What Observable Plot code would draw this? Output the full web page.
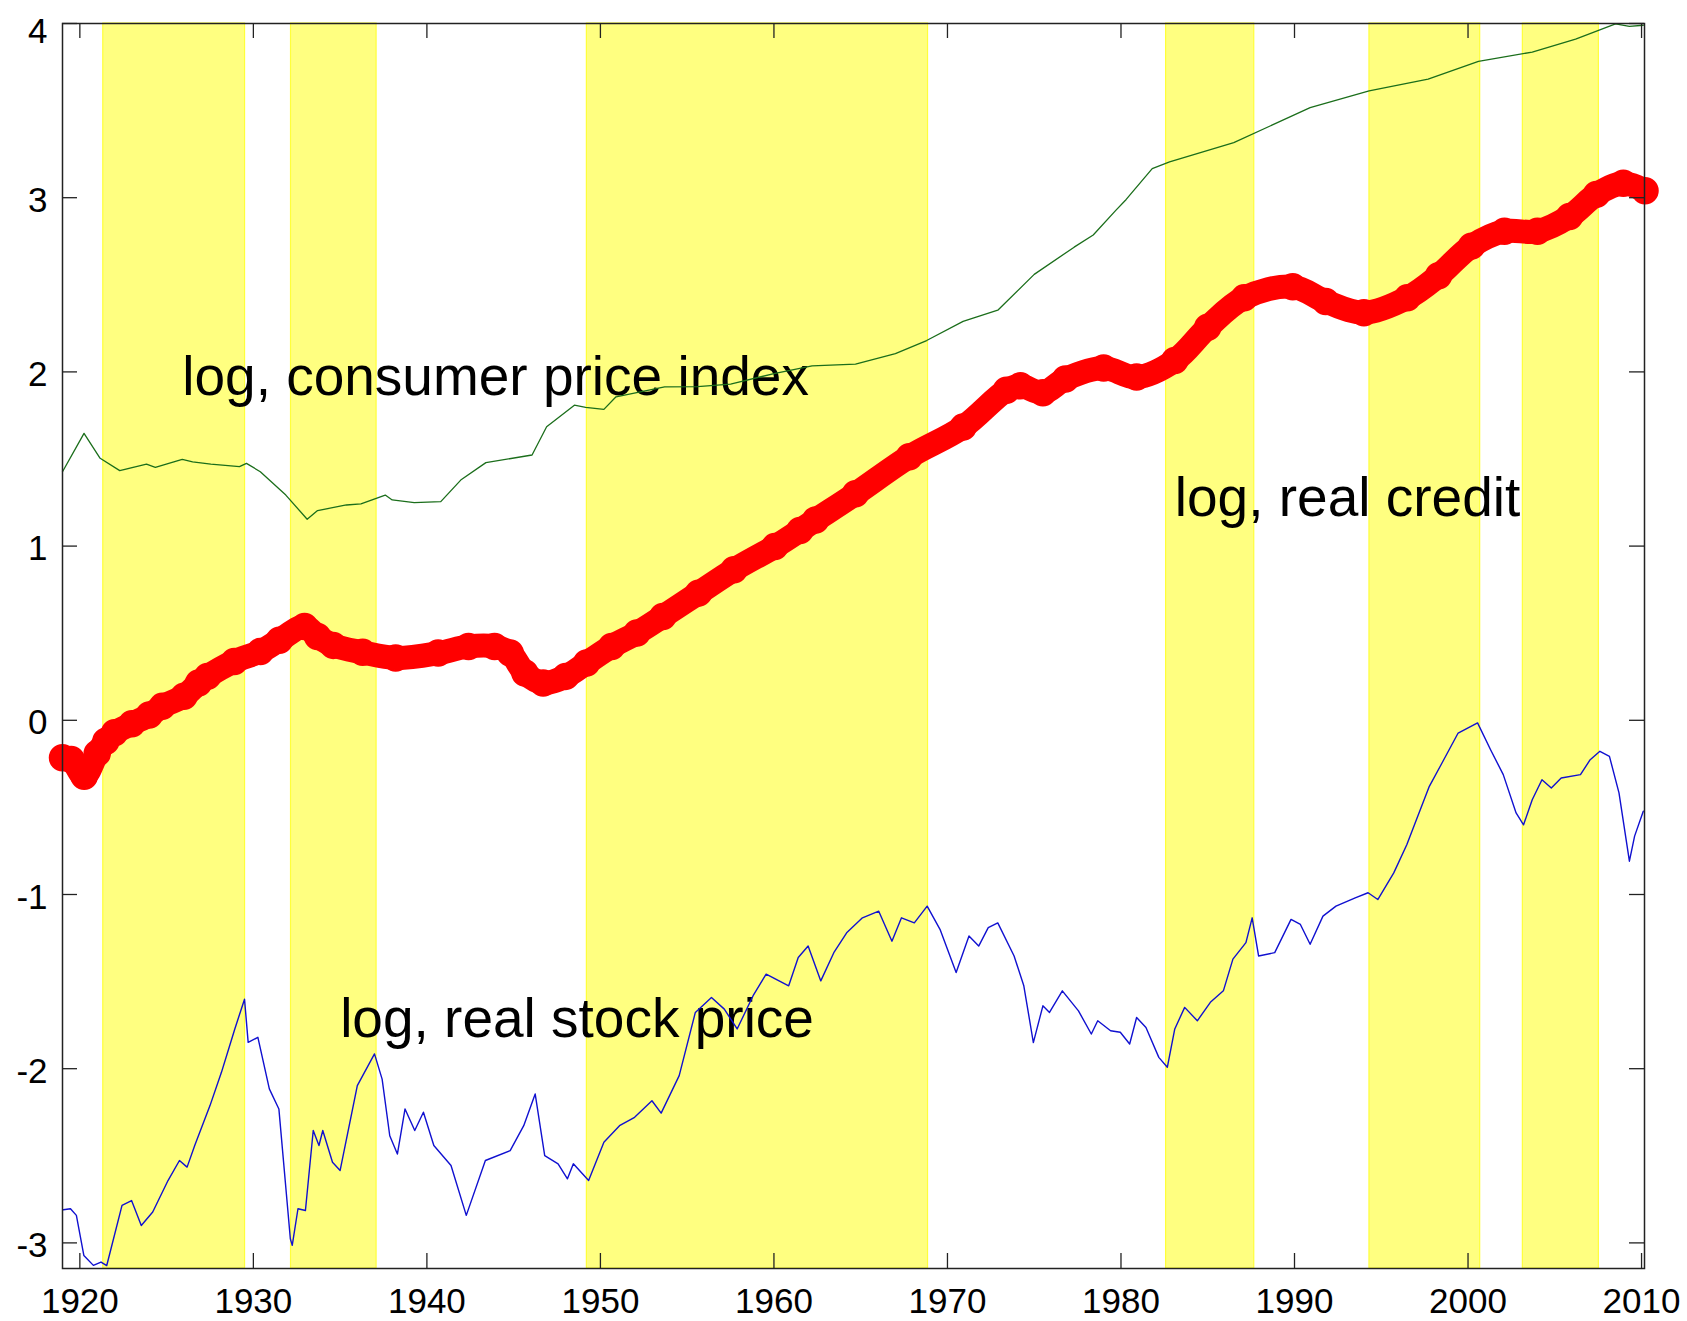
<!DOCTYPE html>
<html>
<head>
<meta charset="utf-8">
<script src="https://cdn.jsdelivr.net/npm/d3@7"></script>
<script src="https://cdn.jsdelivr.net/npm/@observablehq/plot@0.6"></script>
<style>
  html, body { margin: 0; padding: 0; background: #fff; }
</style>
</head>
<body>
<div id="chart"></div>
<script>
// ---- data ----
const cpiYear  = [1919.0,1920.24,1921.17,1922.3,1923.84,1924.35,1925.9,1926.5,1927.55,1929.2,1929.6,1930.4,1931.87,1933.1,1933.7,1935.36,1936.2,1937.6,1938.0,1939.27,1940.8,1941.95,1943.4,1946.06,1946.9,1948.5,1949.15,1950.2,1950.9,1953.7,1955.6,1957.5,1960.0,1962.2,1964.7,1967.0,1968.8,1970.9,1971.7,1972.9,1975.0,1977.3,1978.4,1979.7,1980.3,1981.8,1982.8,1986.5,1990.9,1994.3,1997.7,2000.6,2003.7,2006.2,2008.5,2009.3,2010.1];
const cpiValue = [1.427,1.647,1.504,1.433,1.471,1.452,1.498,1.484,1.471,1.456,1.475,1.427,1.293,1.154,1.204,1.236,1.242,1.293,1.265,1.25,1.255,1.379,1.479,1.523,1.685,1.809,1.796,1.785,1.857,1.914,1.915,1.93,1.99,2.035,2.045,2.105,2.18,2.29,2.316,2.354,2.56,2.716,2.786,2.927,2.99,3.167,3.206,3.316,3.517,3.613,3.681,3.783,3.836,3.91,3.998,3.984,3.99];

const creditYear  = [1919.0,1919.5,1920.25,1921.0,1921.5,1922.0,1923.0,1924.0,1924.75,1926.0,1926.84,1927.36,1928.9,1930.4,1931.5,1932.95,1933.7,1934.6,1936.3,1938.2,1940.65,1942.4,1943.9,1944.8,1945.65,1946.7,1948.0,1949.2,1950.65,1952.1,1953.6,1955.65,1957.7,1960.05,1961.5,1962.4,1964.7,1967.8,1970.9,1973.4,1974.2,1975.5,1976.8,1979.0,1980.9,1983.1,1985.0,1987.1,1989.9,1991.8,1994.0,1996.5,1998.3,2000.2,2002.1,2004.0,2005.85,2007.4,2008.95,2010.2];
const creditValue = [-0.215,-0.225,-0.321,-0.19,-0.12,-0.072,-0.02,0.03,0.08,0.138,0.214,0.252,0.338,0.395,0.46,0.539,0.481,0.43,0.39,0.358,0.386,0.424,0.424,0.386,0.272,0.214,0.252,0.329,0.424,0.501,0.596,0.73,0.864,0.997,1.09,1.15,1.30,1.513,1.683,1.895,1.92,1.88,1.959,2.022,1.97,2.065,2.256,2.425,2.489,2.404,2.34,2.425,2.552,2.722,2.807,2.807,2.892,3.019,3.083,3.04];

const stockYear  = [1919.05,1919.46,1919.8,1920.23,1920.78,1921.22,1921.55,1922.43,1922.98,1923.54,1924.2,1925.08,1925.74,1926.18,1926.62,1927.5,1928.16,1928.93,1929.49,1929.7,1930.26,1930.92,1931.47,1932.13,1932.24,1932.57,1933.0,1933.45,1933.78,1934.0,1934.56,1935.0,1935.99,1936.98,1937.42,1937.86,1938.3,1938.74,1939.3,1939.8,1940.4,1941.39,1942.27,1943.37,1944.8,1945.58,1946.24,1946.79,1947.56,1948.1,1948.44,1949.32,1950.2,1951.1,1951.97,1952.97,1953.5,1954.54,1955.47,1956.4,1957.14,1957.88,1958.8,1959.55,1960.85,1961.4,1961.97,1962.7,1963.45,1964.19,1965.1,1966.04,1966.8,1967.35,1968.09,1968.83,1969.57,1970.5,1971.24,1971.8,1972.35,1972.9,1973.84,1974.4,1974.95,1975.5,1975.88,1976.62,1977.55,1978.29,1978.66,1979.4,1979.96,1980.5,1980.9,1981.44,1982.18,1982.67,1983.1,1983.67,1984.4,1985.15,1985.9,1986.45,1987.2,1987.56,1987.93,1988.86,1989.8,1990.34,1990.9,1991.64,1992.39,1993.5,1994.24,1994.8,1995.72,1996.47,1997.03,1997.77,1998.5,1999.43,2000.55,2001.3,2002.03,2002.77,2003.2,2003.7,2004.26,2004.8,2005.37,2006.48,2007.04,2007.6,2008.15,2008.7,2009.3,2009.6,2010.1];
const stockValue = [-2.81,-2.804,-2.842,-3.072,-3.129,-3.11,-3.13,-2.785,-2.757,-2.9,-2.823,-2.642,-2.527,-2.565,-2.441,-2.212,-2.021,-1.772,-1.601,-1.849,-1.82,-2.116,-2.231,-2.976,-3.014,-2.804,-2.814,-2.355,-2.441,-2.355,-2.537,-2.584,-2.097,-1.915,-2.06,-2.385,-2.49,-2.231,-2.355,-2.25,-2.441,-2.556,-2.842,-2.527,-2.47,-2.327,-2.145,-2.499,-2.546,-2.632,-2.546,-2.642,-2.422,-2.327,-2.279,-2.184,-2.255,-2.04,-1.677,-1.591,-1.658,-1.772,-1.581,-1.457,-1.524,-1.362,-1.296,-1.496,-1.334,-1.22,-1.134,-1.096,-1.268,-1.134,-1.163,-1.067,-1.2,-1.448,-1.238,-1.296,-1.19,-1.163,-1.353,-1.524,-1.85,-1.639,-1.677,-1.553,-1.668,-1.801,-1.725,-1.782,-1.791,-1.858,-1.706,-1.763,-1.935,-1.992,-1.772,-1.648,-1.725,-1.619,-1.553,-1.371,-1.276,-1.134,-1.353,-1.334,-1.143,-1.172,-1.286,-1.124,-1.067,-1.019,-0.99,-1.029,-0.876,-0.714,-0.57,-0.379,-0.245,-0.073,-0.015,-0.169,-0.312,-0.532,-0.6,-0.456,-0.341,-0.389,-0.331,-0.312,-0.226,-0.178,-0.207,-0.417,-0.809,-0.665,-0.522];

const bandStart = [1921.35, 1932.17, 1949.22, 1982.6, 1994.32, 2003.16];
const bandEnd   = [1929.52, 1937.1, 1968.88, 1987.68, 2000.7, 2007.54];

const xTicks = [1920, 1930, 1940, 1950, 1960, 1970, 1980, 1990, 2000, 2010];
const yTicks = [-3, -2, -1, 0, 1, 2, 3, 4];

const labelText  = ["log, consumer price index", "log, real credit", "log, real stock price"];
const labelYear  = [1925.9, 1983.1, 1935.0];
const labelValue = [1.866, 1.175, -1.82];

// ---- layout ----
const W = 1687, H = 1321;
const mL = 62, mR = 43, mT = 23, mB = 53;
const innerW = W - mL - mR, innerH = H - mT - mB;
const tickLen = 15;
const tickFont = 35;

const cpi = cpiYear.map((x, i) => ({x, y: cpiValue[i]}));
const credit = creditYear.map((x, i) => ({x, y: creditValue[i]}));
const stock = stockYear.map((x, i) => ({x, y: stockValue[i]}));
const bands = bandStart.map((s, i) => ({s, e: bandEnd[i]}));
const labels = labelText.map((t, i) => ({t, x: labelYear[i], y: labelValue[i]}));

const fmt = d => String(d);
const hasAxisMarks = typeof Plot.axisX === "function";

const axisMarks = hasAxisMarks ? [
  Plot.axisX(xTicks, {anchor: "bottom", tickSize: 0, tickPadding: 20, tickFormat: fmt, fontSize: tickFont, label: null}),
  Plot.axisY(yTicks.filter(d => d < 4), {anchor: "left", tickSize: 0, tickPadding: 15, tickFormat: fmt, fontSize: tickFont, dy: 3, label: null}),
  Plot.axisY(yTicks.filter(d => d >= 4), {anchor: "left", tickSize: 0, tickPadding: 15, tickFormat: fmt, fontSize: tickFont, dy: 8, label: null})
] : [];

const chart = Plot.plot({
  width: W,
  height: H,
  marginLeft: mL,
  marginRight: mR,
  marginTop: mT,
  marginBottom: mB,
  style: {fontFamily: "'Liberation Sans', Arial, sans-serif", fontSize: tickFont + "px", background: "#fff", color: "#000"},
  x: {domain: [1919.0, 2010.17], ticks: xTicks, tickSize: 0, tickPadding: 20, tickFormat: fmt, label: null},
  y: {domain: [-3.147, 4.0], ticks: yTicks, tickSize: 0, tickPadding: 15, tickFormat: fmt, label: null},
  marks: [
    Plot.rect(bands, {x1: "s", x2: "e", fill: "#ffff80", stroke: "#ffff3a", strokeWidth: 1.2}),
    Plot.text(labels, {x: "x", y: "y", text: "t", textAnchor: "start", lineAnchor: "bottom", fontSize: 55, fill: "#000"}),
    Plot.line(cpi, {x: "x", y: "y", stroke: "#1b6e1b", strokeWidth: 1.3}),
    Plot.line(credit, {x: "x", y: "y", stroke: "#ff0000", strokeWidth: 24, curve: "catmull-rom", strokeLinecap: "round"}),
    Plot.dot(credit, {x: "x", y: "y", r: 12.5, stroke: "#ff0000", strokeWidth: 2.5, fill: "none"}),
    Plot.line(stock, {x: "x", y: "y", stroke: "#1010d0", strokeWidth: 1.4}),
    Plot.tickX(xTicks, {x: d => d, insetTop: innerH - tickLen, stroke: "#222", strokeWidth: 1.3}),
    Plot.tickX(xTicks, {x: d => d, insetBottom: innerH - tickLen, stroke: "#222", strokeWidth: 1.3}),
    Plot.tickY(yTicks, {y: d => d, insetRight: innerW - tickLen, stroke: "#222", strokeWidth: 1.3}),
    Plot.tickY(yTicks, {y: d => d, insetLeft: innerW - tickLen, stroke: "#222", strokeWidth: 1.3}),
    Plot.frame({stroke: "#222", strokeWidth: 1.5}),
    ...axisMarks
  ]
});
document.getElementById("chart").appendChild(chart);
</script>
</body>
</html>
